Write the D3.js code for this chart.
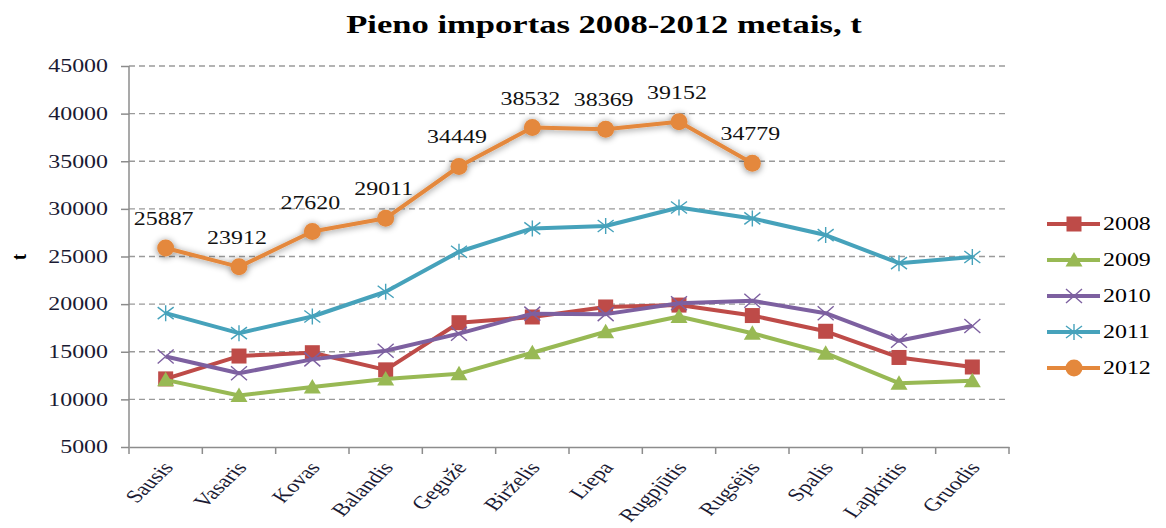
<!DOCTYPE html>
<html>
  <head>
    <meta charset="utf-8">
    <title>Pieno importas</title>
    <style>
      body { margin: 0; background: #fff; }
      svg { font-family: "Liberation Serif", "Times New Roman", serif; }
      .grid line { stroke: #9a9a9a; stroke-dasharray: 6,4; stroke-width: 1.3; }
      .axis path, .axis line { stroke: #8c8c8c; stroke-width: 1.5; }
      .axis text { font-size: 18px; fill: #1a1a33; }
      .line { fill: none; stroke-width: 4; stroke-linejoin: round; }
      .label { font-size: 18px; fill: #111; }
    </style>
    <script src="https://d3js.org/d3.v7.min.js"></script>
  </head>
  <body>
    <div id="chart"></div>
    <script>
// data
var months = ["Sausis", "Vasaris", "Kovas", "Balandis", "Gegužė", "Birželis",
              "Liepa", "Rugpjūtis", "Rugsėjis", "Spalis", "Lapkritis", "Gruodis"];
var years = ["2008", "2009", "2010", "2011", "2012"];
var v2008 = [12150, 14550, 14900, 13100, 18050, 18650, 19700, 19900, 18800, 17150, 14400, 13400];
var v2009 = [12050, 10400, 11300, 12150, 12700, 14900, 17100, 18700, 16950, 14850, 11700, 11950];
var v2010 = [14500, 12750, 14200, 15100, 16900, 19000, 18950, 20100, 20350, 19050, 16150, 17700];
var v2011 = [19050, 16950, 18700, 21300, 25500, 27950, 28200, 30150, 29000, 27250, 24300, 24950];
var v2012 = [25887, 23912, 27620, 29011, 34449, 38532, 38369, 39152, 34779];
var yTicks = [5000, 10000, 15000, 20000, 25000, 30000, 35000, 40000, 45000];

var colors = ["#be4b48", "#98b954", "#7d60a0", "#46a2bb", "#e4883c"];
var shapes = ["square", "triangle", "cross", "asterisk", "circle"];

var series = [v2008, v2009, v2010, v2011, v2012].map(function(vals, i) {
  return {
    name: years[i],
    color: colors[i],
    shape: shapes[i],
    values: vals.map(function(v, j) { return {month: months[j], value: v}; })
  };
});

var width = 1166, height = 528;
var plotLeft = 129, plotRight = 1009, plotTop = 66, plotBottom = 447;
var stretch = 1.33; // the text in the picture is wide

var svg = d3.select("#chart").append("svg")
  .attr("width", width)
  .attr("height", height);

var defs = svg.append("defs");
var glow = defs.append("filter").attr("id", "glow")
  .attr("x", "-20%").attr("y", "-20%").attr("width", "140%").attr("height", "140%");
glow.append("feGaussianBlur").attr("in", "SourceAlpha").attr("stdDeviation", 3.5).attr("result", "blur");
glow.append("feOffset").attr("in", "blur").attr("dx", 0).attr("dy", 1).attr("result", "off");
glow.append("feComponentTransfer").attr("in", "off").attr("result", "sh")
  .append("feFuncA").attr("type", "linear").attr("slope", 0.5);
var merge = glow.append("feMerge");
merge.append("feMergeNode").attr("in", "sh");
merge.append("feMergeNode").attr("in", "SourceGraphic");

// scales
var x = d3.scaleBand().domain(months).range([plotLeft, plotRight]).padding(0);
var y = d3.scaleLinear().domain([5000, 45000]).range([plotBottom, plotTop]);
var cx = function(m) { return x(m) + x.bandwidth() / 2; };

// title
svg.append("text")
  .attr("transform", "translate(604,33) scale(" + stretch + ",1)")
  .attr("text-anchor", "middle")
  .style("font-size", "26px").style("font-weight", "bold")
  .text("Pieno importas 2008-2012 metais, t");

// grid
svg.append("g").attr("class", "grid")
  .selectAll("line")
  .data(yTicks.filter(function(d) { return d > 5000; }))
  .enter().append("line")
  .attr("x1", plotLeft).attr("x2", plotRight)
  .attr("y1", d => y(d)).attr("y2", d => y(d));

// y axis
var yAxis = svg.append("g").attr("class", "axis")
  .attr("transform", "translate(" + plotLeft + ",0)")
  .call(d3.axisLeft(y).tickValues(yTicks).tickFormat(d3.format("d"))
        .tickSize(8).tickSizeOuter(0).tickPadding(13))
  .attr("font-family", null).attr("font-size", null);
yAxis.select(".domain").attr("d", "M0," + plotBottom + "V" + plotTop);
yAxis.selectAll(".tick text")
  .attr("x", -21 / stretch)
  .attr("transform", "scale(" + stretch + ",1)");

// x axis
var xAxis = svg.append("g").attr("class", "axis")
  .attr("transform", "translate(0," + plotBottom + ")")
  .call(d3.axisBottom(x).tickSize(0).tickSizeOuter(0))
  .attr("font-family", null).attr("font-size", null);
xAxis.selectAll(".tick text")
  .attr("text-anchor", "end")
  .attr("transform", "translate(2,17) scale(" + stretch + ",1) rotate(-52)")
  .attr("dy", "0.35em")
  .attr("x", 0).attr("y", 0);
xAxis.selectAll(".bound")
  .data(d3.range(months.length + 1))
  .enter().append("line").attr("class", "bound")
  .attr("x1", i => plotLeft + i * x.step()).attr("x2", i => plotLeft + i * x.step())
  .attr("y1", 0).attr("y2", 7);

// y label
svg.append("text")
  .attr("transform", "translate(26,257) rotate(-90) scale(1,1.2)")
  .attr("text-anchor", "middle")
  .style("font-size", "18px").style("font-weight", "bold")
  .text("t");

// markers
function marker(g, shape, color) {
  if (shape === "square") {
    g.append("rect").attr("x", -7.5).attr("y", -7.5).attr("width", 15).attr("height", 15).attr("fill", color);
  } else if (shape === "triangle") {
    g.append("path").attr("d", "M0,-8L8.5,6.5H-8.5Z").attr("fill", color);
  } else if (shape === "cross") {
    g.append("path").attr("d", "M-8,-7L8,7M-8,7L8,-7").attr("stroke", color).attr("stroke-width", 1.4).attr("fill", "none");
  } else if (shape === "asterisk") {
    g.append("path").attr("d", "M-8,-6L8,6M-8,6L8,-6M0,-8V8").attr("stroke", color).attr("stroke-width", 1.4).attr("fill", "none");
  } else {
    g.append("circle").attr("r", 8.5).attr("fill", color);
  }
}

var line = d3.line()
  .x(d => cx(d.month))
  .y(d => y(d.value));

var groups = svg.append("g").selectAll(".series")
  .data(series).enter()
  .append("g").attr("class", "series")
  .attr("filter", d => d.name === "2012" ? "url(#glow)" : null);

groups.append("path")
  .attr("class", "line")
  .attr("d", d => line(d.values))
  .style("stroke", d => d.color);

groups.each(function(s) {
  d3.select(this).selectAll(".pt")
    .data(s.values).enter()
    .append("g").attr("class", "pt")
    .attr("transform", d => "translate(" + cx(d.month) + "," + y(d.value) + ")")
    .each(function() { marker(d3.select(this), s.shape, s.color); });
});

// data labels for 2012
svg.append("g").selectAll("text")
  .data(series[4].values).enter()
  .append("text").attr("class", "label")
  .attr("transform", d => "translate(" + (cx(d.month) - 2) + "," + (y(d.value) - 23) + ") scale(" + stretch + ",1)")
  .attr("text-anchor", "middle")
  .text(d => d.value);

// legend
var legend = svg.append("g").selectAll(".leg")
  .data(series).enter()
  .append("g").attr("class", "leg")
  .attr("transform", (d, i) => "translate(1047," + (224 + i * 36) + ")");
legend.append("line")
  .attr("x1", 0).attr("x2", 53)
  .attr("stroke", d => d.color).attr("stroke-width", 4);
legend.each(function(d) {
  var g = d3.select(this).append("g").attr("transform", "translate(27,0)");
  marker(g, d.shape, d.color);
});
legend.append("text")
  .attr("transform", "translate(56,0) scale(" + stretch + ",1)")
  .attr("dy", "0.35em")
  .style("font-size", "18px")
  .text(d => d.name);
    </script>
  </body>
</html>
